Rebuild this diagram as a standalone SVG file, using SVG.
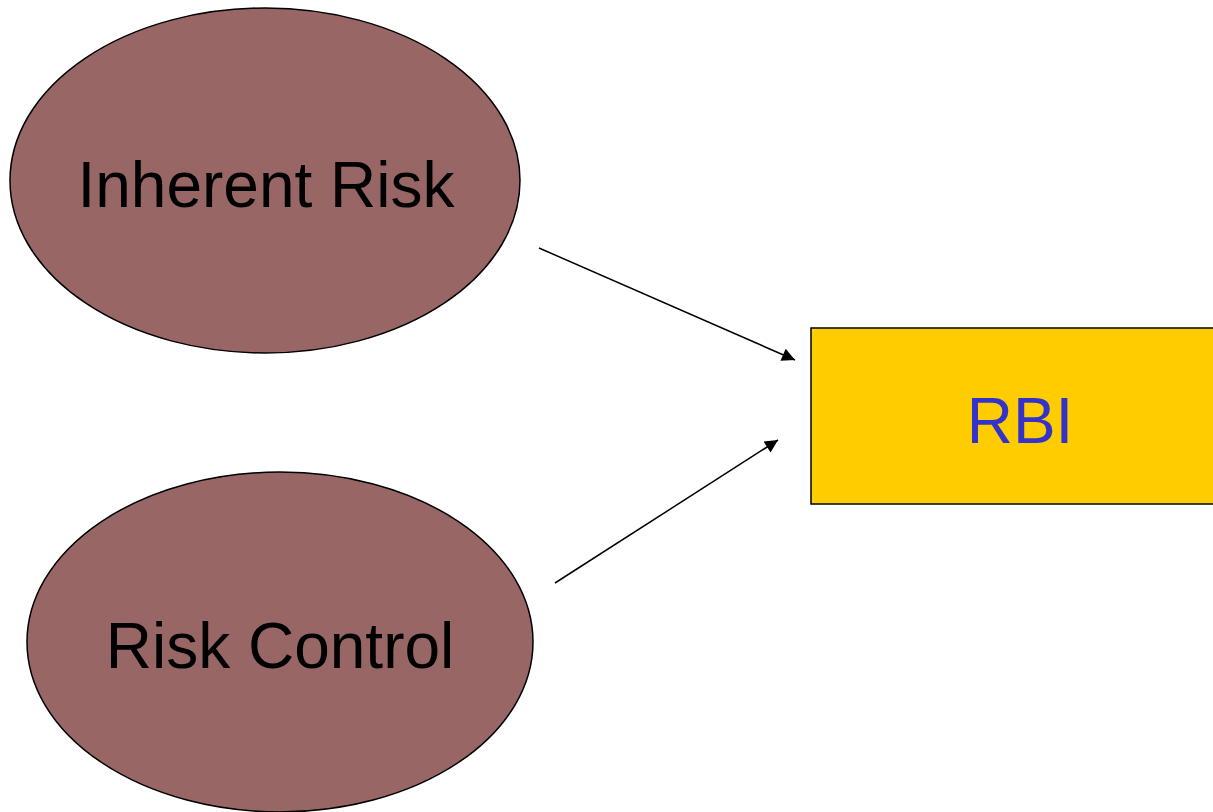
<svg xmlns="http://www.w3.org/2000/svg" width="1213" height="812" viewBox="0 0 1213 812">
<style>
.node-e{fill:#996666;stroke:#000;stroke-width:1.5}
.lbl{font-family:"Liberation Sans",Arial,sans-serif;font-size:64px;text-anchor:middle;fill:#000}
.conn{stroke:#000;stroke-width:1.5;fill:none;marker-end:url(#ah)}
</style>
<defs>
<marker id="ah" viewBox="0 0 10 10" refX="10" refY="5" markerUnits="userSpaceOnUse" markerWidth="19" markerHeight="13" orient="auto">
<path d="M0,0 L10,5 L0,10 Z" fill="#000"/>
</marker>
</defs>
<rect width="1213" height="812" fill="#fff"/>
<g id="inherent-risk">
<ellipse class="node-e" cx="265" cy="180.5" rx="255" ry="172.5"/>
<text class="lbl" x="266" y="207">Inherent Risk</text>
</g>
<g id="risk-control">
<ellipse class="node-e" cx="280" cy="642" rx="253" ry="170"/>
<text class="lbl" x="280" y="668">Risk Control</text>
</g>
<g id="rbi">
<rect x="811" y="328" width="420" height="176" fill="#FFCC00" stroke="#000" stroke-width="1.5"/>
<text class="lbl" x="1020" y="443" style="fill:#3333CC">RBI</text>
</g>
<g id="connectors">
<line class="conn" x1="539" y1="248" x2="795" y2="360"/>
<line class="conn" x1="555" y1="583" x2="778" y2="440"/>
</g>
</svg>
